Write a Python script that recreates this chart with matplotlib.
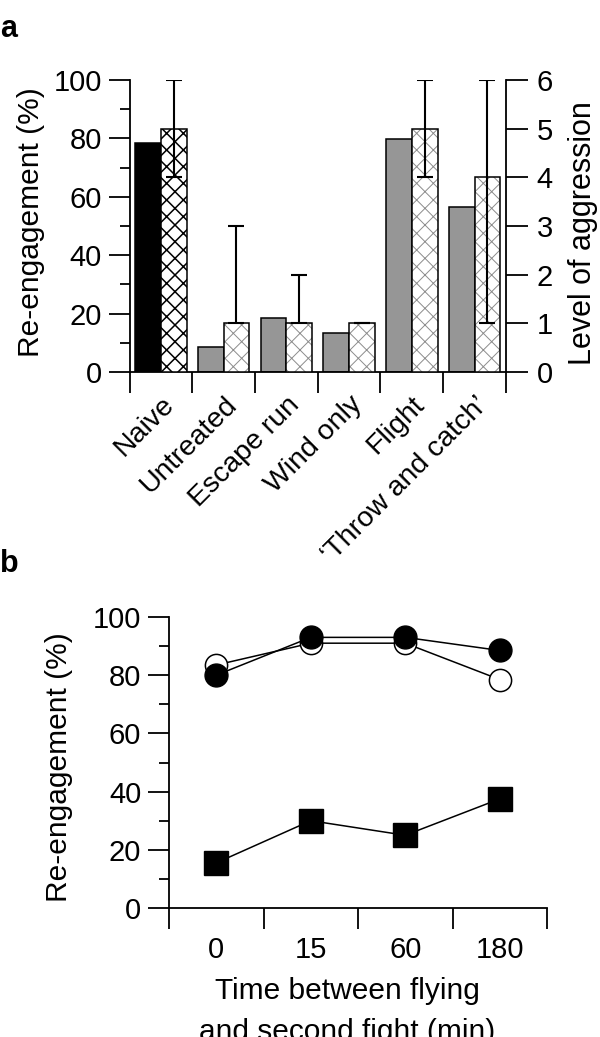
import matplotlib
matplotlib.use('Agg')
import matplotlib.pyplot as plt
import matplotlib.transforms as mtransforms
import numpy as np

plt.rcParams['font.family'] = ['Liberation Sans', 'DejaVu Sans']
plt.rcParams['font.size'] = 21

# ---------------- data ----------------
categories = ['Naive', 'Untreated', 'Escape run', 'Wind only', 'Flight',
              '\u2018Throw and catch\u2019']
reengagement = [78.5, 8.5, 18.4, 13.2, 79.8, 56.5]          # % (left axis)
aggression = [5, 1, 1, 1, 5, 4]                             # right axis
aggression_low = [4, 1, 1, 1, 4, 1]
aggression_high = [6, 3, 2, 1, 6, 6]

times = ['0', '15', '60', '180']
filled_circles = [80, 93, 93, 88.5]
open_circles = [83.5, 91, 91, 78.5]
squares = [15.5, 30, 25, 37.5]

# ---------------- figure ----------------
W, H = 600, 1037
fig = plt.figure(figsize=(W / 100, H / 100), dpi=100)

LW = 1.3
TL = 15

# Panel a
axa = fig.add_axes([129.5 / W, 1 - 372 / H, (506 - 129.5) / W, 292 / H])
axa2 = axa.twinx()
x = np.arange(len(categories))
bw = 0.41

bar_colors = ['black'] + ['#969696'] * 5
axa.bar(x - bw / 2, reengagement, width=bw, color=bar_colors,
        edgecolor='black', linewidth=1.1, zorder=2)

hatch_cols = ['black'] + ['#8c8c8c'] * 5
hatch_lws = [1.1] + [0.7] * 5
for xi, v, hc, hl in zip(x, aggression, hatch_cols, hatch_lws):
    plt.rcParams['hatch.linewidth'] = hl
    b = axa2.bar(xi + bw / 2, v, width=bw, color='white', edgecolor=hc,
                 hatch='xx', linewidth=0, zorder=2)
    for p in b:
        if hasattr(p, 'set_hatch_linewidth'):
            p.set_hatch_linewidth(hl)
    axa2.bar(xi + bw / 2, v, width=bw, fill=False, edgecolor='black',
             linewidth=1.1, zorder=3)

agg = np.array(aggression, dtype=float)
yerr = np.vstack([agg - np.array(aggression_low), np.array(aggression_high) - agg])
axa2.errorbar(x + bw / 2, agg, yerr=yerr, fmt='none', ecolor='black',
              elinewidth=1.5, capsize=6, capthick=1.5, zorder=4)

axa.set_xlim(-0.5, len(categories) - 0.5)
axa.set_ylim(0, 100)
axa2.set_ylim(0, 6)

axa.set_yticks(np.arange(0, 101, 20))
axa.set_yticks(np.arange(10, 100, 20), minor=True)
axa2.set_yticks(np.arange(0, 7, 1))
axa.set_xticks(x)
axa.set_xticks(np.arange(-0.5, len(categories), 1), minor=True)

axa.tick_params(axis='y', which='major', direction='out', length=TL, width=LW, pad=5)
axa.tick_params(axis='y', which='minor', direction='out', length=TL / 2, width=LW)
axa2.tick_params(axis='y', which='major', direction='out', length=TL + 1, width=LW, pad=6)
axa.tick_params(axis='x', which='major', length=0, pad=14)
axa.tick_params(axis='x', which='minor', direction='out', length=TL, width=LW)

offset = mtransforms.ScaledTranslation(0 / 100, 0, fig.dpi_scale_trans)
axa.set_xticklabels(categories, rotation=45, ha='right', va='top',
                    rotation_mode='anchor', fontsize=20.5)
for lab in axa.get_xticklabels():
    lab.set_transform(lab.get_transform() + offset)

for ax in (axa, axa2):
    ax.spines['top'].set_visible(False)
    for s in ax.spines.values():
        s.set_linewidth(LW)
axa.spines['right'].set_visible(False)
axa2.spines['left'].set_visible(False)
axa2.spines['bottom'].set_visible(False)
axa.set_zorder(1)
axa2.set_zorder(2)
axa2.patch.set_visible(False)

fig.text(31 / W, 1 - 222 / H, 'Re-engagement (%)', rotation=90,
         ha='center', va='center', fontsize=21.5)
fig.text(583 / W, 1 - 233 / H, 'Level of aggression', rotation=90,
         ha='center', va='center', fontsize=22)
fig.text(0 / W, 1 - 14 / H, 'a', ha='left', va='top', fontsize=22,
         fontweight='bold')

# Panel b
axb = fig.add_axes([169 / W, 1 - 908 / H, (547 - 169) / W, 291 / H])
xb = np.arange(len(times))
axb.plot(xb, open_circles, '-', color='black', lw=1.1, marker='o',
         markersize=16, markerfacecolor='white', markeredgecolor='black',
         markeredgewidth=1.1, zorder=3)
axb.plot(xb, filled_circles, '-', color='black', lw=1.1, marker='o',
         markersize=16.5, markerfacecolor='black', markeredgecolor='black',
         zorder=4)
axb.plot(xb, squares, '-', color='black', lw=1.1, marker='s',
         markersize=17.5, markerfacecolor='black', markeredgecolor='black',
         zorder=4)

axb.set_xlim(-0.5, len(times) - 0.5)
axb.set_ylim(0, 100)
axb.set_yticks(np.arange(0, 101, 20))
axb.set_yticks(np.arange(10, 100, 20), minor=True)
axb.set_xticks(xb)
axb.set_xticklabels(times)
axb.set_xticks(np.arange(-0.5, len(times), 1), minor=True)
axb.tick_params(axis='y', which='major', direction='out', length=TL, width=LW, pad=5)
axb.tick_params(axis='y', which='minor', direction='out', length=TL / 2, width=LW)
axb.tick_params(axis='x', which='major', length=0, pad=20)
axb.tick_params(axis='x', which='minor', direction='out', length=TL, width=LW)
axb.spines['top'].set_visible(False)
axb.spines['right'].set_visible(False)
for s in axb.spines.values():
    s.set_linewidth(LW)
axb.patch.set_visible(False)
for a in axb.lines:
    a.set_clip_on(False)

fig.text(59 / W, 1 - 767 / H, 'Re-engagement (%)', rotation=90,
         ha='center', va='center', fontsize=21.5)
fig.text(347 / W, 1 - 977 / H, 'Time between flying\nand second fight (min)',
         ha='center', va='top', fontsize=21.5, linespacing=1.6)
fig.text(0 / W, 1 - 549 / H, 'b', ha='left', va='top', fontsize=22,
         fontweight='bold')

fig.savefig('out.png', dpi=100)
